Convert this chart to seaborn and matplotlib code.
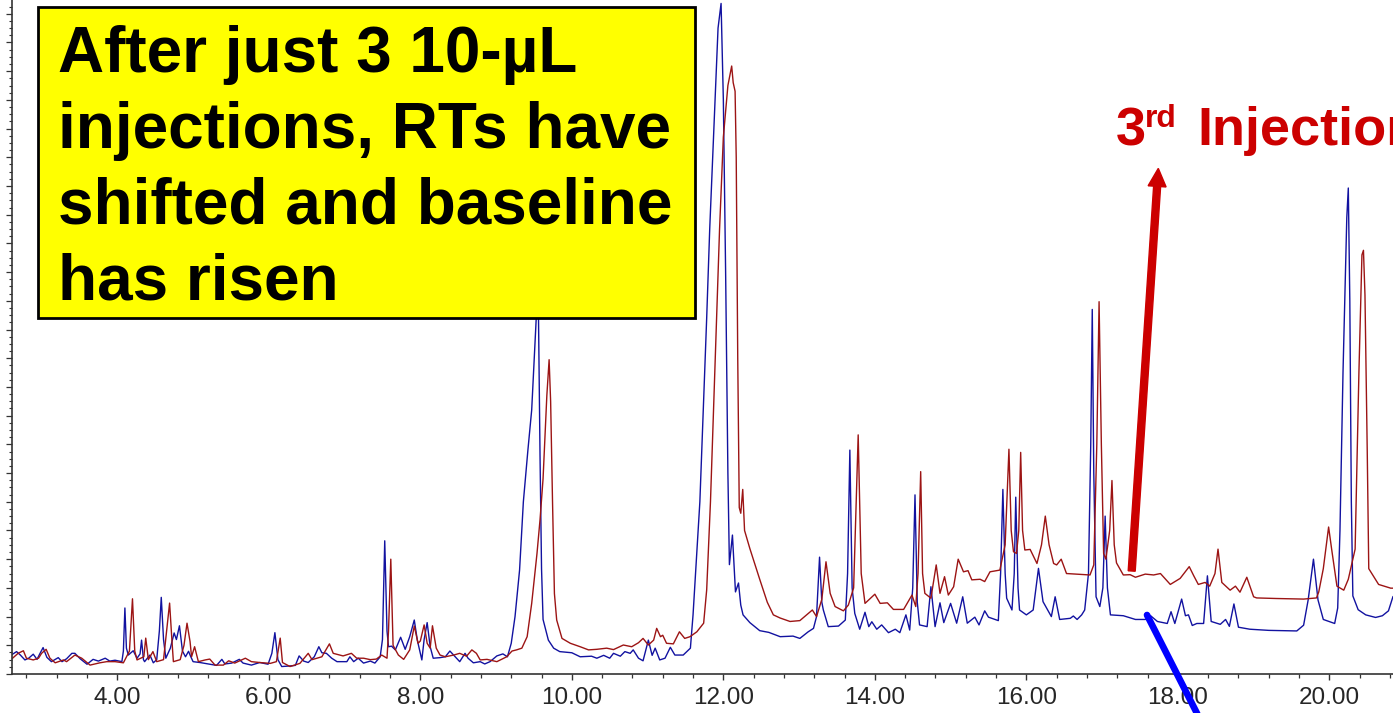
import matplotlib
matplotlib.use("Agg")
import matplotlib.pyplot as plt
import seaborn as sns
import pandas as pd
from matplotlib.patches import Rectangle, FancyArrow
from matplotlib.lines import Line2D
from matplotlib.transforms import IdentityTransform
from matplotlib.ticker import MultipleLocator, FormatStrFormatter, NullFormatter

# retention time (min), abundance (arbitrary units)
FIRST_INJECTION = [
    (2.60, 0.66), (2.67, 0.78), (2.72, 0.66), (2.78, 0.49), (2.83, 0.55), (2.89, 0.69),
    (2.94, 0.51), (2.98, 0.72), (3.02, 0.92), (3.07, 0.58), (3.13, 0.43), (3.22, 0.57),
    (3.27, 0.43), (3.33, 0.53), (3.40, 0.72), (3.44, 0.72), (3.51, 0.53), (3.60, 0.34),
    (3.68, 0.51), (3.75, 0.45), (3.84, 0.55), (3.90, 0.45), (3.97, 0.48), (4.06, 0.43),
    (4.08, 0.80), (4.10, 2.30), (4.12, 0.90), (4.145, 0.66), (4.21, 0.81), (4.26, 0.55),
    (4.30, 0.70), (4.32, 1.18), (4.345, 0.50), (4.36, 0.43), (4.43, 0.66), (4.475, 0.39),
    (4.52, 0.50), (4.555, 1.50), (4.58, 2.67), (4.61, 1.20), (4.64, 0.55), (4.70, 0.90),
    (4.75, 1.43), (4.78, 1.20), (4.82, 1.68), (4.86, 0.80), (4.90, 0.60), (4.94, 0.79),
    (4.97, 0.60), (5.00, 0.43), (5.09, 0.40), (5.22, 0.34), (5.31, 0.30), (5.38, 0.51),
    (5.42, 0.35), (5.51, 0.38), (5.61, 0.51), (5.66, 0.38), (5.77, 0.31), (5.88, 0.40),
    (5.99, 0.34), (6.04, 0.72), (6.08, 1.44), (6.12, 0.50), (6.17, 0.26), (6.28, 0.28),
    (6.35, 0.30), (6.40, 0.63), (6.46, 0.45), (6.52, 0.40), (6.60, 0.60), (6.66, 0.95),
    (6.70, 0.74), (6.76, 0.72), (6.83, 0.55), (6.90, 0.43), (7.03, 0.43), (7.07, 0.60),
    (7.12, 0.43), (7.18, 0.55), (7.25, 0.38), (7.34, 0.45), (7.40, 0.38), (7.47, 0.60),
    (7.50, 1.20), (7.53, 4.64), (7.56, 1.50), (7.58, 0.95), (7.62, 0.97), (7.67, 0.84),
    (7.74, 1.28), (7.80, 0.86), (7.86, 1.30), (7.92, 1.88), (7.96, 1.18), (8.02, 0.49),
    (8.05, 1.20), (8.09, 1.79), (8.13, 0.95), (8.17, 0.55), (8.26, 0.57), (8.33, 0.60),
    (8.39, 0.80), (8.46, 0.60), (8.52, 0.43), (8.59, 0.72), (8.63, 0.55), (8.70, 0.39),
    (8.79, 0.43), (8.85, 0.35), (8.92, 0.43), (9.01, 0.63), (9.09, 0.70), (9.15, 0.60),
    (9.20, 1.07), (9.25, 2.00), (9.31, 3.62), (9.36, 6.00), (9.42, 7.80), (9.47, 9.20),
    (9.53, 12.4), (9.55, 14.5), (9.56, 12.4), (9.58, 7.60), (9.60, 3.66), (9.62, 1.90),
    (9.69, 1.18), (9.76, 0.90), (9.84, 0.78), (10.00, 0.74), (10.11, 0.60), (10.26, 0.62),
    (10.33, 0.55), (10.42, 0.65), (10.50, 0.55), (10.55, 0.72), (10.64, 0.62), (10.70, 0.78),
    (10.77, 0.72), (10.81, 0.84), (10.88, 0.55), (10.94, 0.46), (11.01, 1.18), (11.06, 0.65),
    (11.10, 0.90), (11.16, 0.49), (11.23, 0.55), (11.30, 0.93), (11.36, 0.66), (11.47, 0.66),
    (11.54, 0.84), (11.565, 0.90), (11.60, 2.06), (11.69, 6.00), (11.78, 12.4), (11.82, 15.5),
    (11.87, 18.7), (11.93, 22.5), (11.97, 23.36), (12.00, 20.0), (12.03, 14.0), (12.06, 7.0),
    (12.08, 3.81), (12.12, 4.84), (12.16, 2.86), (12.20, 3.17), (12.23, 2.40), (12.26, 2.06),
    (12.35, 1.79), (12.48, 1.51), (12.60, 1.45), (12.75, 1.30), (12.92, 1.32), (13.01, 1.24),
    (13.12, 1.47), (13.19, 1.59), (13.23, 2.00), (13.27, 4.07), (13.30, 2.50), (13.32, 2.23),
    (13.385, 1.65), (13.52, 1.67), (13.61, 1.88), (13.64, 3.50), (13.67, 7.80), (13.70, 3.00),
    (13.735, 2.11), (13.80, 1.56), (13.87, 2.15), (13.92, 1.65), (13.96, 1.82), (14.025, 1.56),
    (14.09, 1.71), (14.18, 1.44), (14.27, 1.56), (14.33, 1.44), (14.41, 2.06), (14.46, 1.53),
    (14.50, 3.00), (14.53, 6.24), (14.56, 2.50), (14.59, 1.71), (14.69, 1.65), (14.74, 3.04),
    (14.795, 1.65), (14.86, 2.48), (14.91, 1.79), (15.00, 2.46), (15.08, 1.77), (15.16, 2.69),
    (15.22, 1.77), (15.32, 1.98), (15.375, 1.71), (15.45, 2.20), (15.50, 1.98), (15.63, 1.86),
    (15.66, 3.50), (15.69, 6.43), (15.72, 3.50), (15.74, 2.64), (15.81, 2.23), (15.84, 3.50),
    (15.86, 6.16), (15.89, 3.00), (15.91, 2.23), (16.00, 2.06), (16.09, 2.23), (16.16, 3.68),
    (16.22, 2.52), (16.33, 2.00), (16.38, 2.69), (16.44, 1.90), (16.58, 1.94), (16.62, 2.02),
    (16.67, 1.90), (16.73, 2.06), (16.77, 2.23), (16.82, 3.50), (16.85, 8.00), (16.87, 12.7),
    (16.89, 7.00), (16.92, 2.69), (16.97, 2.35), (17.01, 3.00), (17.04, 5.50), (17.07, 3.00),
    (17.11, 2.06), (17.28, 2.03), (17.44, 1.90), (17.57, 1.90), (17.64, 2.03), (17.73, 1.83),
    (17.86, 1.76), (17.91, 2.17), (17.96, 1.76), (18.05, 2.61), (18.10, 2.03), (18.14, 2.06),
    (18.19, 1.69), (18.25, 1.76), (18.34, 1.76), (18.39, 3.42), (18.44, 1.83), (18.56, 1.73),
    (18.63, 1.90), (18.68, 1.66), (18.74, 2.44), (18.80, 1.63), (18.95, 1.56), (19.20, 1.52),
    (19.57, 1.50), (19.66, 1.70), (19.72, 2.58), (19.79, 4.00), (19.85, 2.58), (19.92, 1.90),
    (20.07, 1.76), (20.11, 2.30), (20.14, 5.00), (20.18, 10.5), (20.23, 15.9), (20.25, 16.93),
    (20.27, 13.0), (20.29, 6.00), (20.31, 2.72), (20.38, 2.24), (20.48, 2.06), (20.61, 1.97),
    (20.70, 2.03), (20.78, 2.20), (20.84, 2.70),
]

THIRD_INJECTION = [
    (2.60, 0.51), (2.69, 0.72), (2.76, 0.81), (2.80, 0.55), (2.89, 0.49), (2.96, 0.55),
    (3.00, 0.72), (3.06, 0.86), (3.11, 0.55), (3.18, 0.39), (3.29, 0.49), (3.33, 0.43),
    (3.44, 0.66), (3.53, 0.55), (3.64, 0.31), (3.77, 0.39), (3.86, 0.43), (3.97, 0.43),
    (4.08, 0.39), (4.16, 0.80), (4.20, 2.62), (4.23, 0.80), (4.26, 0.49), (4.35, 0.60),
    (4.375, 1.25), (4.41, 0.50), (4.47, 0.78), (4.52, 0.43), (4.61, 0.50), (4.65, 1.50),
    (4.69, 2.47), (4.72, 1.20), (4.74, 0.43), (4.83, 0.50), (4.88, 1.00), (4.92, 1.77),
    (4.96, 1.13), (4.98, 0.60), (5.02, 0.95), (5.07, 0.43), (5.16, 0.49), (5.22, 0.52),
    (5.29, 0.31), (5.40, 0.31), (5.47, 0.46), (5.55, 0.38), (5.69, 0.55), (5.77, 0.43),
    (5.88, 0.40), (6.02, 0.37), (6.10, 0.43), (6.15, 1.25), (6.18, 0.40), (6.28, 0.26),
    (6.41, 0.37), (6.52, 0.72), (6.57, 0.50), (6.70, 0.60), (6.80, 1.05), (6.85, 0.72),
    (6.98, 0.63), (7.09, 0.72), (7.16, 0.55), (7.25, 0.55), (7.34, 0.50), (7.42, 0.52),
    (7.49, 0.66), (7.56, 0.55), (7.58, 1.50), (7.61, 4.00), (7.64, 1.00), (7.65, 0.95),
    (7.71, 0.66), (7.78, 0.51), (7.86, 0.84), (7.92, 1.67), (7.97, 1.07), (8.00, 1.15),
    (8.05, 1.71), (8.09, 1.07), (8.13, 0.90), (8.16, 1.68), (8.21, 0.90), (8.26, 0.66),
    (8.33, 0.60), (8.44, 0.66), (8.52, 0.72), (8.61, 0.62), (8.68, 0.84), (8.74, 0.72),
    (8.79, 0.49), (8.88, 0.51), (9.01, 0.43), (9.14, 0.60), (9.21, 0.80), (9.27, 0.84),
    (9.34, 0.90), (9.41, 1.30), (9.47, 2.46), (9.54, 4.20), (9.58, 5.37), (9.62, 6.80),
    (9.67, 9.70), (9.70, 10.95), (9.72, 9.50), (9.745, 6.00), (9.77, 2.80), (9.80, 1.88),
    (9.87, 1.24), (9.98, 1.07), (10.11, 0.95), (10.22, 0.84), (10.33, 0.86), (10.46, 0.90),
    (10.55, 0.85), (10.68, 1.01), (10.79, 0.95), (10.88, 1.09), (10.94, 1.24), (11.01, 1.01),
    (11.08, 1.18), (11.12, 1.59), (11.17, 1.30), (11.20, 1.35), (11.25, 1.07), (11.34, 1.05),
    (11.42, 1.47), (11.49, 1.24), (11.56, 1.30), (11.65, 1.47), (11.74, 1.77), (11.78, 2.93),
    (11.83, 6.00), (11.91, 12.4), (11.95, 15.5), (12.00, 18.7), (12.06, 20.5), (12.11, 21.18),
    (12.13, 20.6), (12.155, 20.3), (12.17, 18.0), (12.19, 11.0), (12.21, 5.80), (12.23, 5.60),
    (12.256, 6.43), (12.28, 5.00), (12.35, 4.37), (12.48, 3.30), (12.58, 2.50), (12.66, 2.06),
    (12.75, 1.95), (12.88, 1.83), (13.01, 1.86), (13.175, 2.23), (13.23, 2.00), (13.30, 2.60),
    (13.355, 3.91), (13.41, 2.81), (13.475, 2.35), (13.585, 2.20), (13.65, 2.40), (13.72, 3.00),
    (13.78, 8.33), (13.82, 3.50), (13.87, 2.46), (14.00, 2.78), (14.07, 2.46), (14.165, 2.48),
    (14.245, 2.25), (14.38, 2.25), (14.49, 2.75), (14.54, 2.35), (14.57, 3.50), (14.605, 7.05),
    (14.63, 3.50), (14.66, 2.81), (14.74, 2.64), (14.81, 3.80), (14.86, 2.81), (14.92, 3.39),
    (14.97, 2.75), (15.04, 3.04), (15.10, 4.00), (15.17, 3.56), (15.23, 3.60), (15.28, 3.28),
    (15.39, 3.30), (15.45, 3.22), (15.52, 3.56), (15.65, 3.62), (15.72, 4.50), (15.77, 7.83),
    (15.80, 5.00), (15.83, 4.26), (15.87, 4.20), (15.90, 5.00), (15.925, 7.72), (15.95, 5.00),
    (15.98, 4.32), (16.05, 4.34), (16.14, 3.85), (16.20, 4.50), (16.25, 5.50), (16.30, 4.50),
    (16.36, 3.85), (16.40, 3.80), (16.46, 4.00), (16.53, 3.50), (16.71, 3.47), (16.84, 3.45),
    (16.89, 3.80), (16.93, 8.00), (16.96, 12.97), (16.99, 8.00), (17.02, 4.20), (17.05, 4.00),
    (17.10, 5.00), (17.13, 6.74), (17.16, 4.50), (17.19, 3.87), (17.28, 3.45), (17.37, 3.46),
    (17.44, 3.37), (17.57, 3.48), (17.68, 3.45), (17.77, 3.50), (17.90, 3.12), (18.03, 3.33),
    (18.15, 3.74), (18.21, 3.42), (18.27, 3.12), (18.36, 3.19), (18.42, 3.06), (18.49, 3.50),
    (18.53, 4.35), (18.58, 3.19), (18.69, 2.92), (18.76, 3.06), (18.82, 2.85), (18.91, 3.37),
    (19.00, 2.69), (19.04, 2.65), (19.30, 2.63), (19.66, 2.61), (19.83, 2.65), (19.86, 2.86),
    (19.92, 3.67), (19.99, 5.12), (20.03, 4.35), (20.10, 3.06), (20.19, 2.92), (20.25, 3.30),
    (20.34, 4.35), (20.39, 10.5), (20.43, 14.6), (20.45, 14.76), (20.47, 13.2), (20.50, 7.75),
    (20.52, 3.67), (20.65, 3.12), (20.81, 2.99), (20.84, 2.99),
]

BOX_LINES = ["After just 3 10-\u00b5L", "injections, RTs have", "shifted and baseline", "has risen"]
X_RANGE = (2.603, 20.84)
Y_RANGE = (0, 23.48)

W, H = 1393, 713

sns.set_theme(style="white")
plt.rcParams["font.family"] = ["Liberation Sans", "DejaVu Sans"]


def fx(x):
    return x / W


def fy(y):
    return 1 - y / H


fig = plt.figure(figsize=(W / 100, H / 100), dpi=100)
ax = fig.add_axes([11.5 / W, 39 / H, (W - 11.5) / W, 674 / H])

first = pd.DataFrame(FIRST_INJECTION, columns=["rt", "abund"])
third = pd.DataFrame(THIRD_INJECTION, columns=["rt", "abund"])
sns.lineplot(data=first, x="rt", y="abund", ax=ax, color="#1212a0", lw=1.0,
             estimator=None, sort=False)
sns.lineplot(data=third, x="rt", y="abund", ax=ax, color="#9c1414", lw=1.0,
             estimator=None, sort=False)

ax.set_xlim(*X_RANGE)
ax.set_ylim(*Y_RANGE)
ax.set_xlabel("")
ax.set_ylabel("")
for side in ["top", "right"]:
    ax.spines[side].set_visible(False)
for side in ["left", "bottom"]:
    ax.spines[side].set_color("#333333")
    ax.spines[side].set_linewidth(1.2)

ax.xaxis.set_major_locator(MultipleLocator(2.0))
ax.xaxis.set_minor_locator(MultipleLocator(0.4))
ax.xaxis.set_major_formatter(FormatStrFormatter("%.2f"))
ax.yaxis.set_major_locator(MultipleLocator(1.0))
ax.yaxis.set_minor_locator(MultipleLocator(0.25))
ax.yaxis.set_major_formatter(NullFormatter())
ax.tick_params(axis="x", which="major", direction="out", length=4.2, width=1.0,
               color="#333333", labelsize=17.5, pad=5, bottom=True)
ax.tick_params(axis="x", which="minor", direction="out", length=2.8, width=0.9,
               color="#333333", bottom=True)
ax.tick_params(axis="y", which="major", direction="out", length=4.0, width=0.9,
               color="#333333", left=True, labelleft=False)
ax.tick_params(axis="y", which="minor", direction="out", length=2.4, width=0.8,
               color="#333333", left=True)

# yellow call-out box
box = Rectangle((fx(38), fy(318)), (695 - 38) / W, (318 - 7) / H, transform=fig.transFigure,
                facecolor="#ffff00", edgecolor="black", lw=2.0, zorder=5)
fig.add_artist(box)
for line, base in zip(BOX_LINES, [72, 148, 224, 300]):
    fig.text(fx(58), fy(base), line, fontsize=46, fontweight="bold", color="black",
             ha="left", va="baseline", zorder=6)

# 3rd injection label and arrow
red = "#cc0000"
fig.text(fx(1116), fy(145), "3", fontsize=39, fontweight="bold", color=red, va="baseline")
fig.text(fx(1145), fy(127), "rd", fontsize=23, fontweight="bold", color=red, va="baseline")
fig.text(fx(1197), fy(145), "Injection", fontsize=39, fontweight="bold", color=red,
         va="baseline")
fig.add_artist(FancyArrow(1131.7, H - 571, 26.6, 571 - 168.4, width=7, head_width=18,
                          head_length=18, length_includes_head=True,
                          transform=IdentityTransform(), color=red, zorder=6))

# 1st injection pointer (label is off the bottom of the frame)
fig.add_artist(Line2D([1147, 1208], [H - 615, H - 735], transform=IdentityTransform(),
                      color="#0000ff", lw=4.8, solid_capstyle="round", zorder=6))

fig.savefig("out.png", dpi=100)
plt.close(fig)
